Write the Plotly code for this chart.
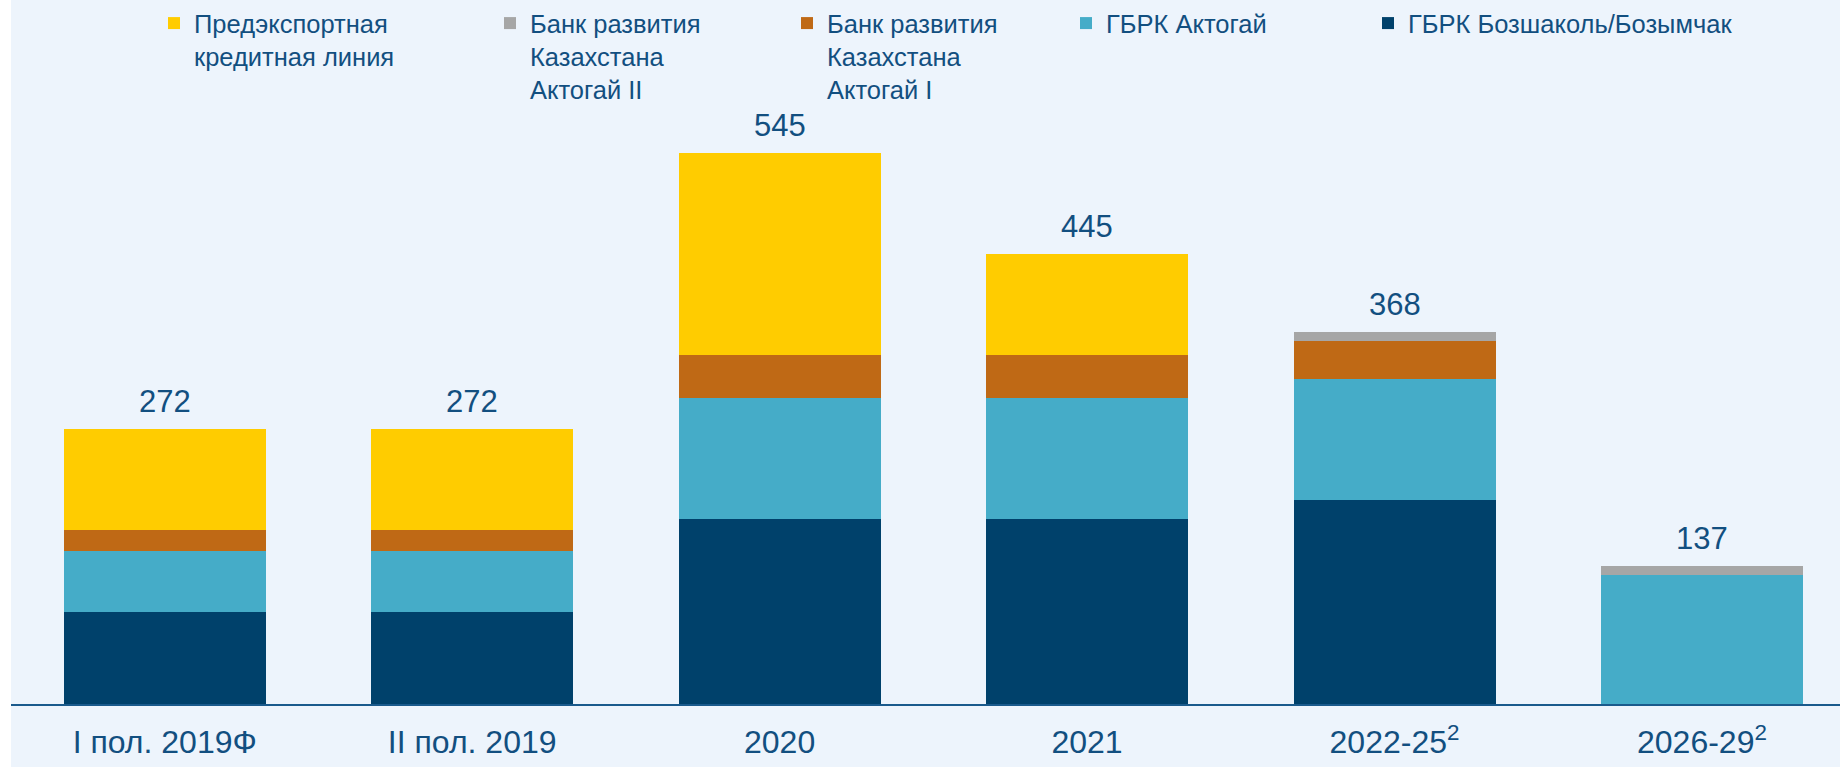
import plotly.graph_objects as go

# Debt repayment schedule, USD mn
CATEGORIES = ['I пол. 2019Ф', 'II пол. 2019', '2020', '2021',
              '2022-25<sup>2</sup>', '2026-29<sup>2</sup>']
BOZSHAKOL = [91, 91, 183, 183, 202, 0]
AKTOGAY = [60, 60, 120, 120, 120, 128]
DBK_AKTOGAY_1 = [21, 21, 42, 42, 37, 0]
DBK_AKTOGAY_2 = [0, 0, 0, 0, 9, 9]
PXF = [100, 100, 200, 100, 0, 0]
TOTALS = [272, 272, 545, 445, 368, 137]

SERIES = [
    ('ГБРК Бозшаколь/Бозымчак', BOZSHAKOL, '#00416B'),
    ('ГБРК Актогай', AKTOGAY, '#45ACC8'),
    ('Банк развития<br>Казахстана<br>Актогай I', DBK_AKTOGAY_1, '#BF6915'),
    ('Банк развития<br>Казахстана<br>Актогай II', DBK_AKTOGAY_2, '#A6A6A6'),
    ('Предэкспортная<br>кредитная линия', PXF, '#FFCC00'),
]
# left pixel of each legend entry text (same order as SERIES)
LEGEND_TEXT_X = [1408, 1106, 827, 530, 194]

W, H = 1840, 767
BG = '#EDF4FC'
TEXT = '#124F80'
FONT = 'Arial, Liberation Sans, sans-serif'

fig = go.Figure()
layout_legends = {}
for i, (name, vals, color) in enumerate(SERIES):
    key = 'legend' if i == 0 else f'legend{i + 1}'
    fig.add_trace(go.Bar(
        x=CATEGORIES, y=vals, name=name, marker_color=color,
        marker_line_width=0, legend=key, hoverinfo='y+name',
    ))
    layout_legends[key] = dict(
        xref='container', yref='container',
        x=(LEGEND_TEXT_X[i] - 40) / W, y=1.0,
        xanchor='left', yanchor='top',
        bgcolor='rgba(0,0,0,0)', borderwidth=0,
        font=dict(family=FONT, size=25.5, color=TEXT),
        valign='top', itemwidth=30,
    )

# totals above the stacks (x given as category index)
for i, total in enumerate(TOTALS):
    fig.add_annotation(x=i, y=total, text=str(total), showarrow=False,
                       yanchor='bottom', yshift=8,
                       font=dict(family=FONT, size=31, color=TEXT))

# thin white strip at the left edge
fig.add_shape(type='rect', xref='paper', yref='paper',
              x0=-11 / (W - 11), x1=0, y0=-1, y1=2,
              fillcolor='white', line_width=0, layer='below')

fig.update_layout(
    width=W, height=H,
    barmode='stack', bargap=0.343,
    showlegend=True,
    paper_bgcolor=BG, plot_bgcolor=BG,
    margin=dict(l=11, r=0, t=100, b=63, autoexpand=False),
    font=dict(family=FONT, color=TEXT),
    **layout_legends,
)
fig.update_xaxes(
    type='category', categoryorder='array', categoryarray=CATEGORIES,
    range=[-0.5, 5.449], showgrid=False, zeroline=False,
    showline=True, linecolor='#1A5A8C', linewidth=2,
    ticks='outside', ticklen=9, tickcolor='rgba(0,0,0,0)',
    tickangle=0, automargin=False,
    tickfont=dict(family=FONT, size=32, color=TEXT),
)
fig.update_yaxes(range=[0, 597.7], visible=False)

fig.write_html('out.html', config={'displayModeBar': False},
               post_script="document.body.style.margin = '0';")
